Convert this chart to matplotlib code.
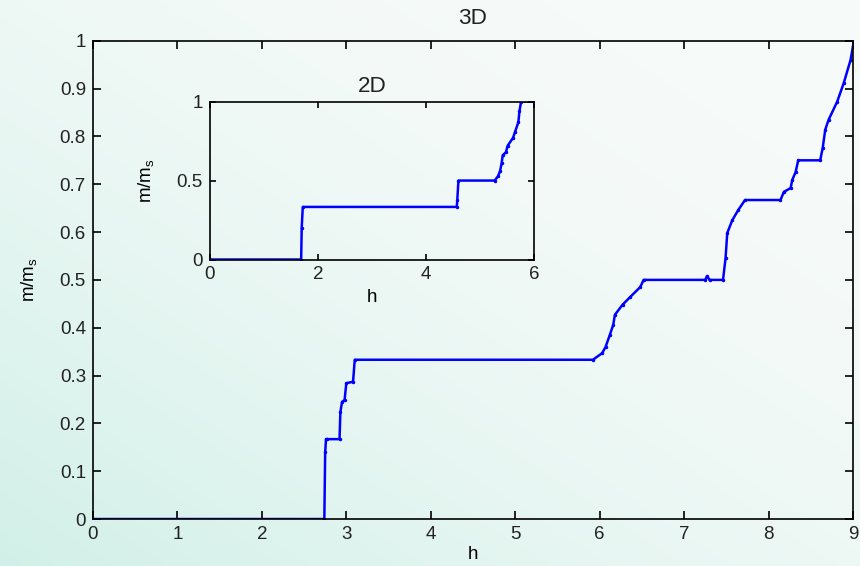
import numpy as np
import matplotlib.pyplot as plt

# 3D curve: magnetization vs field
h_3d = [0, 2.74, 2.75, 2.76, 2.77, 2.92, 2.93, 2.95, 2.98, 3.00, 3.08, 3.10,
        5.92, 6.03, 6.07, 6.12, 6.16, 6.18, 6.27, 6.36, 6.48, 6.52,
        7.25, 7.27, 7.30, 7.46, 7.49, 7.51, 7.57, 7.64, 7.72,
        8.14, 8.18, 8.26, 8.28, 8.32, 8.35, 8.61, 8.64, 8.67, 8.71,
        8.81, 8.89, 8.97, 9.0]
m_3d = [0, 0, 0.14, 0.167, 0.167, 0.167, 0.224, 0.245, 0.249, 0.284, 0.287, 0.333,
        0.333, 0.347, 0.36, 0.385, 0.406, 0.427, 0.448, 0.464, 0.485, 0.5,
        0.5, 0.508, 0.5, 0.5, 0.546, 0.598, 0.625, 0.646, 0.667,
        0.667, 0.684, 0.692, 0.709, 0.726, 0.75, 0.75, 0.776, 0.814, 0.835,
        0.872, 0.912, 0.96, 0.99]

# 2D curve (inset)
h_2d = [0, 1.69, 1.70, 1.72, 4.57, 4.58, 4.60, 5.27, 5.33, 5.37, 5.40, 5.42,
        5.48, 5.51, 5.61, 5.65, 5.71, 5.73, 5.76, 6.0]
m_2d = [0, 0, 0.2, 0.333, 0.333, 0.38, 0.5, 0.5, 0.526, 0.558, 0.61, 0.66,
        0.68, 0.72, 0.77, 0.81, 0.87, 0.94, 1.0, 1.0]

plt.rcParams['font.family'] = ['Liberation Sans', 'DejaVu Sans']
plt.rcParams['font.size'] = 13.5
plt.rcParams['text.color'] = '#222222'

fig = plt.figure(figsize=(8.6, 5.66), dpi=100)

# slide-like background gradient
bg = fig.add_axes([0, 0, 1, 1], zorder=-10)
yy, xx = np.mgrid[0:1:200j, 0:1:300j]
t = np.clip(0.6 * (1 - xx) + 0.6 * yy - 0.2, 0, 1) ** 1.6
top = np.array([0.965, 0.982, 0.975])
teal = np.array([0.82, 0.94, 0.91])
img = top[None, None, :] * (1 - t[..., None]) + teal[None, None, :] * t[..., None]
bg.imshow(img, aspect='auto', extent=[0, 1, 0, 1], origin='upper')
bg.axis('off')

# main axes
ax = fig.add_axes([0.108, 0.083, 0.884, 0.845])
ax.patch.set_alpha(0)
ax.plot(h_3d, m_3d, color='#0000ff', lw=1.8, marker='.', ms=3)
ax.set_xlim(0, 9)
ax.set_ylim(0, 1)
ax.set_xticks(range(10))
ax.set_yticks(np.arange(0, 1.01, 0.1))
ax.set_yticklabels(['0', '0.1', '0.2', '0.3', '0.4', '0.5', '0.6', '0.7', '0.8', '0.9', '1'])
ax.tick_params(direction='in', top=True, right=True, length=6, width=1.2, pad=5,
               labelcolor='#222222')
for s in ax.spines.values():
    s.set_linewidth(1.2)
ax.set_title('3D', pad=12)
ax.set_xlabel('h', labelpad=2)
ax.set_ylabel('m/m$_\\mathregular{s}$', labelpad=14)

# inset
ins = fig.add_axes([0.244, 0.5415, 0.377, 0.279])
ins.patch.set_alpha(0)
ins.plot(h_2d, m_2d, color='#0000ff', lw=1.8, marker='.', ms=3)
ins.set_xlim(0, 6)
ins.set_ylim(0, 1)
ins.set_xticks([0, 2, 4, 6])
ins.set_yticks([0, 0.5, 1])
ins.set_yticklabels(['0', '0.5', '1'])
ins.tick_params(direction='in', top=True, right=True, length=4, width=1.2, pad=5,
                labelcolor='#222222')
for s in ins.spines.values():
    s.set_linewidth(1.2)
ins.set_title('2D', pad=7)
ins.set_xlabel('h', labelpad=4)
ins.set_ylabel('m/m$_\\mathregular{s}$', labelpad=14)

fig.savefig('out.png', dpi=100)
